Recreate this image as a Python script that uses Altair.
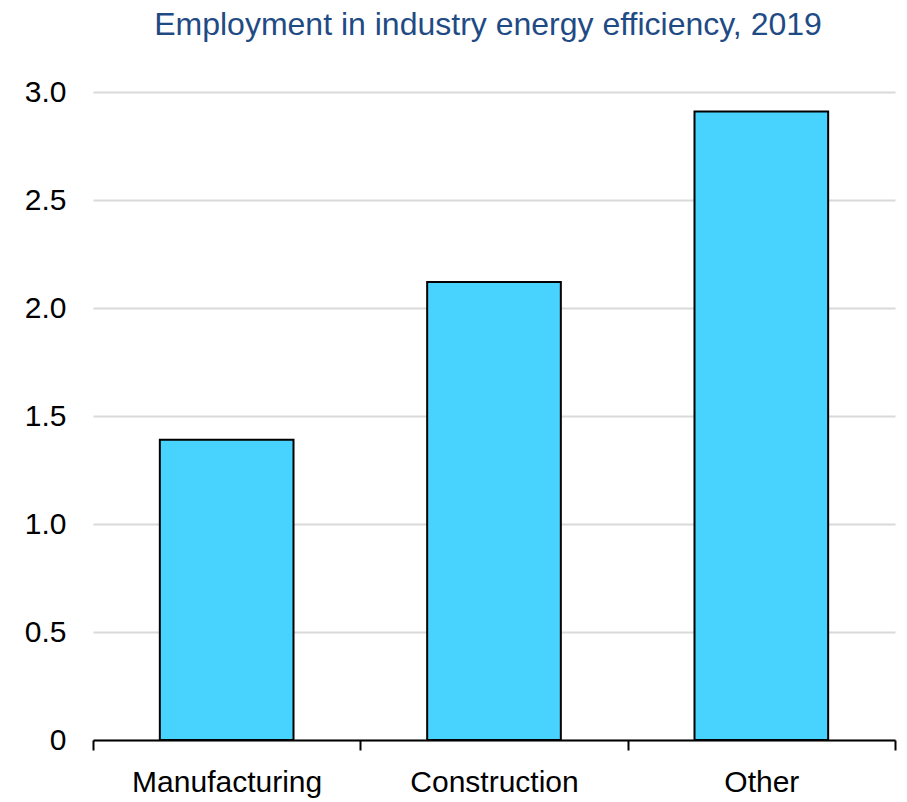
import altair as alt
import pandas as pd

categories = ["Manufacturing", "Construction", "Other"]
values = [1.39, 2.12, 2.91]
y_ticks = [0, 0.5, 1.0, 1.5, 2.0, 2.5, 3.0]

df = pd.DataFrame({"sector": categories, "value": values})

chart = alt.Chart(df).mark_bar(
    color="#48D3FF", stroke="black", strokeWidth=2,
    width=alt.RelativeBandSize(0.5)
).encode(
    x=alt.X("sector:N", sort=categories, title=None,
            scale=alt.Scale(paddingInner=0, paddingOuter=0),
            axis=alt.Axis(labelAngle=0, domainColor="black", domainWidth=2,
                          tickColor="black", tickWidth=2, tickSize=10,
                          tickBand="extent", labelPadding=17, labelLimit=0,
                          labelFont="Liberation Sans", labelFontSize=30,
                          labelColor="black", grid=False)),
    y=alt.Y("value:Q", title=None,
            scale=alt.Scale(domain=[0, 3], nice=False),
            axis=alt.Axis(values=y_ticks, domain=False, ticks=False,
                          labelExpr="datum.value == 0 ? '0' : format(datum.value, '.1f')",
                          labelPadding=27, labelFont="Liberation Sans",
                          labelFontSize=30, labelColor="black",
                          gridColor="#D9D9D9", gridWidth=2)),
).properties(
    width=802, height=648,
    autosize=alt.AutoSizeParams(type="none"),
    padding={"left": 85, "top": 84, "right": 2, "bottom": 58},
    title=alt.TitleParams("Employment in industry energy efficiency, 2019",
                          font="Liberation Sans", fontSize=32, fontWeight="normal",
                          color="#1F4B85", anchor="middle", offset=35, dx=-6),
).configure_view(stroke=None)

chart.save("out.html", embed_options={"renderer": "svg", "actions": False})
